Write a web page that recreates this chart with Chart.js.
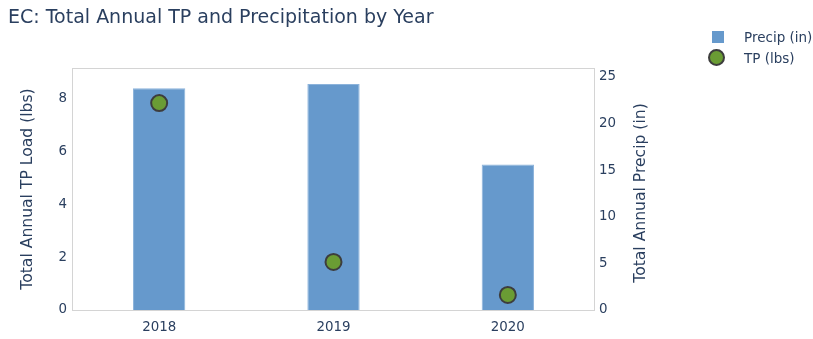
<!DOCTYPE html>
<html>
<head>
<meta charset="utf-8">
<script src="https://cdn.jsdelivr.net/npm/chart.js@4"></script>
<style>
  body { margin: 0; background: #fff; font-family: "DejaVu Sans", Verdana, sans-serif; }
  #wrap { position: relative; width: 813px; height: 339px; }
  #title { position: absolute; left: 8px; top: 5px; font-size: 19px; color: #2a3f5f; white-space: nowrap; }
  #legend { position: absolute; left: 708px; top: 26px; font-size: 13.5px; color: #2a3f5f; }
  .item { height: 21px; display: flex; align-items: center; white-space: nowrap; }
  .sq { width: 12px; height: 12px; background: #6699cc; margin: 0 20px 0 4px; }
  .dot { width: 13px; height: 13px; border-radius: 50%; background: #6a9c34; border: 2px solid #3d3d3d; margin: 0 19px 0 0; }
</style>
</head>
<body>
<div id="wrap">
  <canvas id="chart" width="813" height="339"></canvas>
  <div id="title">EC: Total Annual TP and Precipitation by Year</div>
  <div id="legend">
    <div class="item"><span class="sq"></span>Precip (in)</div>
    <div class="item"><span class="dot"></span>TP (lbs)</div>
  </div>
</div>
<script>
// values
var years = ['2018', '2019', '2020'];
var precipIn = [23.8, 24.25, 15.6];
var tpLbs = [7.84, 1.82, 0.57];
var tpTicks = [0, 2, 4, 6, 8];
var precipTicks = [0, 5, 10, 15, 20, 25];

var textColor = '#2a3f5f';
var lineColor = '#d4d4d4';
var tickFont = { family: 'DejaVu Sans', size: 13.4 };

// draw the light box around the plot area and the right axis title (reads upward)
var boxPlugin = {
  id: 'plotBox',
  afterDraw: function(chart) {
    var a = chart.chartArea, ctx = chart.ctx;
    ctx.save();
    ctx.strokeStyle = lineColor;
    ctx.lineWidth = 1;
    ctx.strokeRect(a.left + 0.5, a.top + 0.5, a.right - a.left - 1, a.bottom - a.top);
    ctx.translate(641, (a.top + a.bottom) / 2 + 4);
    ctx.rotate(-Math.PI / 2);
    ctx.fillStyle = textColor;
    ctx.font = '15.6px "DejaVu Sans"';
    ctx.textAlign = 'center';
    ctx.textBaseline = 'middle';
    ctx.fillText('Total Annual Precip (in)', 0, 0);
    ctx.restore();
  }
};

function fixedTicks(list) {
  return function(s) {
    s.ticks = list.map(function(v) { return { value: v }; });
  };
}

var ctx = document.getElementById('chart').getContext('2d');
var myChart = new Chart(ctx, {
  type: 'bar',
  data: {
    labels: years,
    datasets: [{
      type: 'line',
      label: 'TP (lbs)',
      data: tpLbs,
      yAxisID: 'y',
      showLine: false,
      pointRadius: 8,
      pointBackgroundColor: '#6a9c34',
      pointBorderColor: '#3d3d3d',
      pointBorderWidth: 2,
      order: 0
    }, {
      label: 'Precip (in)',
      data: precipIn,
      yAxisID: 'y1',
      backgroundColor: '#6699cc',
      borderColor: '#8cb3db',
      borderWidth: 1,
      barPercentage: 0.3,
      categoryPercentage: 1,
      order: 1
    }]
  },
  options: {
    responsive: false,
    animation: false,
    layout: { padding: { left: 19, right: 158, top: 68, bottom: 0 } },
    plugins: {
      legend: { display: false },
      tooltip: { enabled: false }
    },
    scales: {
      x: {
        grid: { display: false, drawTicks: false },
        border: { display: false },
        ticks: { color: textColor, font: tickFont, padding: 9 },
        afterFit: function(s) { s.height = 29; }
      },
      y: {
        position: 'left',
        min: 0,
        max: 9.17,
        grid: { display: false, drawTicks: false },
        border: { display: false },
        ticks: { color: textColor, font: tickFont, padding: 5 },
        afterBuildTicks: fixedTicks(tpTicks),
        title: { display: true, text: 'Total Annual TP Load (lbs)', color: textColor, font: { family: 'DejaVu Sans', size: 15.6 }, padding: 0 },
        afterFit: function(s) { s.width = 53; }
      },
      y1: {
        position: 'right',
        min: 0,
        max: 25.96,
        grid: { display: false, drawTicks: false },
        border: { display: false },
        ticks: { color: textColor, font: tickFont, padding: 4 },
        afterBuildTicks: fixedTicks(precipTicks),
        afterFit: function(s) { s.width = 60; }
      }
    }
  },
  plugins: [boxPlugin]
});
</script>
</body>
</html>
